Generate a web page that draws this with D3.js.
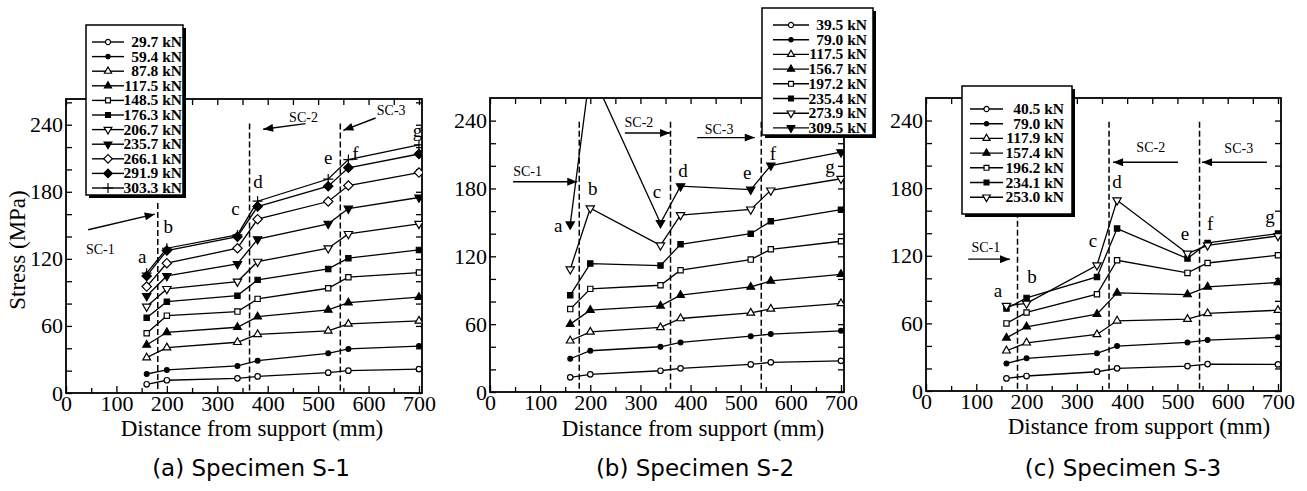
<!DOCTYPE html>
<html><head><meta charset="utf-8">
<script src="https://cdn.jsdelivr.net/npm/d3@7"></script>
<style>body{margin:0;background:#fff}svg{display:block}</style>
</head><body><svg id="chart" width="1307" height="491"></svg>
<script>
// ---------------- DATA ----------------
const stations = [160, 200, 340, 380, 520, 560, 700];
const stationLabels = ["a", "b", "c", "d", "e", "f", "g"];
const xTickValues = [0, 100, 200, 300, 400, 500, 600, 700];
const yTickLabelValues = [0, 60, 120, 180, 240];
const yAxisTitle = "Stress (MPa)";
const xAxisTitle = "Distance from support (mm)";
const captions = ["(a) Specimen S-1", "(b) Specimen S-2", "(c) Specimen S-3"];
const regionNames = ["SC-1", "SC-2", "SC-3"];

// Specimen S-1
const loadsS1 = ["29.7 kN", "59.4 kN", "87.8 kN", "117.5 kN", "148.5 kN", "176.3 kN", "206.7 kN", "235.7 kN", "266.1 kN", "291.9 kN", "303.3 kN"];
const markersS1 = ["oc", "fc", "ot", "ft", "os", "fs", "od", "fd", "oD", "fD", "plus"];
const stressS1 = [
  [7.8, 11.4, 13.1, 14.8, 18.2, 20.0, 21.4],
  [17.0, 20.6, 24.2, 28.9, 35.5, 39.4, 42.0],
  [31.6, 40.6, 45.4, 52.5, 55.5, 61.8, 64.5],
  [43.0, 54.3, 58.8, 68.3, 74.3, 80.8, 85.7],
  [53.4, 69.2, 72.8, 84.2, 93.7, 103.6, 107.7],
  [67.4, 81.7, 87.1, 101.2, 111.0, 120.6, 128.0],
  [77.3, 93.1, 99.7, 117.5, 129.5, 142.3, 151.3],
  [86.8, 104.7, 115.5, 137.6, 151.3, 165.0, 174.9],
  [95.2, 116.1, 129.5, 155.5, 171.3, 185.6, 197.2],
  [104.7, 127.4, 139.8, 166.8, 185.0, 201.5, 213.8],
  [107.2, 129.5, 141.4, 171.6, 191.4, 208.8, 222.0]
];
const dividersS1 = [182, 364, 544];
const dividerTopsS1 = [170, 241, 241];

// Specimen S-2
const loadsS2 = ["39.5 kN", "79.0 kN", "117.5 kN", "156.7 kN", "197.2 kN", "235.4 kN", "273.9 kN", "309.5 kN"];
const markersS2 = ["oc", "fc", "ot", "ft", "os", "fs", "od", "fd"];
const stressS2 = [
  [13.0, 15.6, 18.8, 20.9, 24.4, 26.2, 27.6],
  [29.4, 36.5, 40.0, 43.8, 49.4, 51.2, 54.1],
  [45.3, 53.2, 57.1, 65.0, 70.0, 73.5, 78.3],
  [60.0, 72.4, 76.2, 85.6, 92.9, 98.2, 104.1],
  [73.3, 91.2, 94.4, 107.7, 117.1, 126.2, 133.3],
  [85.6, 113.6, 111.8, 130.6, 140.0, 150.9, 161.2],
  [108.6, 162.5, 129.7, 156.5, 161.5, 178.3, 188.6],
  [148.3, 285.0, 149.5, 182.0, 179.0, 200.3, 212.1]
];
const dividersS2 = [178, 360, 541];
const dividerTopsS2 = [239, 239, 239];

// Specimen S-3
const loadsS3 = ["40.5 kN", "79.0 kN", "117.9 kN", "157.4 kN", "196.2 kN", "234.1 kN", "253.0 kN"];
const markersS3 = ["oc", "fc", "ot", "ft", "os", "fs", "od"];
const stressS3 = [
  [11.2, 13.3, 17.1, 20.1, 22.1, 23.9, 23.6],
  [24.5, 29.0, 33.4, 39.9, 43.1, 45.2, 47.6],
  [35.7, 42.8, 50.2, 62.3, 63.8, 68.8, 71.7],
  [47.2, 57.0, 68.2, 87.1, 85.6, 92.4, 96.3],
  [60.0, 69.7, 85.9, 116.0, 104.8, 113.6, 120.5],
  [73.2, 82.6, 101.2, 144.1, 117.5, 131.4, 139.7],
  [75.6, 77.7, 111.6, 169.2, 122.0, 129.3, 137.6]
];
const dividersS3 = [182, 364, 544];
const dividerTopsS3 = [239, 239, 239];

// Annotation anchors in data units [mm, MPa]
const labelPosS1 = [[151,116],[203,143],[336,159],[381,183],[520,205],[574,208],[697,229]];
const labelPosS2 = [[136,141.5],[205,174],[333,172],[385,190],[513,188],[564,205],[678,194]];
const labelPosS3 = [[143,83],[211,96],[332,128],[380,180],[515,134],[565,143],[684,149]];
const regionTextS1 = [[68,124],[471,242],[645,249]];
const regionArrowS1 = [[[44,146],[176,160]],[[475,241],[391,236]],[[614,246],[550,235]]];
const regionTextS2 = [[75,191],[297,234],[457,228]];
const regionArrowS2 = [[[46,186],[174,186]],[[269,229],[359,229]],[[413,225],[528,225]]];
const regionTextS3 = [[119,123],[447,212],[622,211]];
const regionArrowS3 = [[[84,117],[167,117]],[[501,203],[372,203]],[[678,203],[549,203]]];

// ---------------- LAYOUT ----------------
const panels = [
  {loads: loadsS1, markers: markersS1, stress: stressS1, dividers: dividersS1, dividerTops: dividerTopsS1,
   labelPos: labelPosS1, regionText: regionTextS1, regionArrow: regionArrowS1, caption: captions[0],
   left: 66, right: 422, top: 99, bottom: 393, xMax: 706, yMax: 263, yTitle: true,
   xTitleX: 252, xTitleY: 436, captionX: 251, captionY: 476,
   legend: {x: 86, y: 25, w: 97, h: 170, row0: 42, rowH: 14.6, l1: 92, l2: 124, tx: 182}},
  {loads: loadsS2, markers: markersS2, stress: stressS2, dividers: dividersS2, dividerTops: dividerTopsS2,
   labelPos: labelPosS2, regionText: regionTextS2, regionArrow: regionArrowS2, caption: captions[1],
   left: 490, right: 844, top: 98, bottom: 392, xMax: 706, yMax: 260, yTitle: false,
   xTitleX: 693, xTitleY: 436, captionX: 695, captionY: 476,
   legend: {x: 762, y: 8, w: 111, h: 127, row0: 25, rowH: 14.7, l1: 773, l2: 809, tx: 867}},
  {loads: loadsS3, markers: markersS3, stress: stressS3, dividers: dividersS3, dividerTops: dividerTopsS3,
   labelPos: labelPosS3, regionText: regionTextS3, regionArrow: regionArrowS3, caption: captions[2],
   left: 926, right: 1281, top: 98, bottom: 391, xMax: 706, yMax: 260, yTitle: false,
   xTitleX: 1139, xTitleY: 434, captionX: 1123, captionY: 476,
   legend: {x: 962, y: 86, w: 110, h: 128, row0: 109, rowH: 14.7, l1: 970, l2: 1003, tx: 1064}}
];

const SERIF = "'Liberation Serif', 'Times New Roman', serif";
const svg = d3.select("#chart");
const defs = svg.append("defs");
defs.append("marker").attr("id", "arrowHead")
  .attr("viewBox", "0 0 10 8").attr("refX", 10).attr("refY", 4)
  .attr("markerUnits", "userSpaceOnUse").attr("markerWidth", 12).attr("markerHeight", 8)
  .attr("orient", "auto")
  .append("path").attr("d", "M0,0L10,4L0,8Z").attr("fill", "#000");

function markerPath(type, small) {
  const k = small ? 0.85 : 1;
  switch (type) {
    case "oc": return {d: d3.symbol(d3.symbolCircle, 24 * k)(), fill: "#fff", rot: 0};
    case "fc": return {d: d3.symbol(d3.symbolCircle, 18 * k)(), fill: "#000", rot: 0};
    case "ot": return {d: d3.symbol(d3.symbolTriangle, 26 * k)(), fill: "#fff", rot: 0};
    case "ft": return {d: d3.symbol(d3.symbolTriangle, 26 * k)(), fill: "#000", rot: 0};
    case "os": return {d: d3.symbol(d3.symbolSquare, 28 * k)(), fill: "#fff", rot: 0};
    case "fs": return {d: d3.symbol(d3.symbolSquare, 28 * k)(), fill: "#000", rot: 0};
    case "od": return {d: d3.symbol(d3.symbolTriangle, 30 * k)(), fill: "#fff", rot: 180};
    case "fd": return {d: d3.symbol(d3.symbolTriangle, 30 * k)(), fill: "#000", rot: 180};
    case "oD": return {d: d3.symbol(d3.symbolSquare, 44 * k)(), fill: "#fff", rot: 45};
    case "fD": return {d: d3.symbol(d3.symbolSquare, 44 * k)(), fill: "#000", rot: 45};
    case "plus": return {d: "M-5,0H5M0,-5V5", fill: "none", rot: 0};
  }
}
function drawMarker(g, type, cx, cy, small) {
  const m = markerPath(type, small);
  g.append("path").attr("d", m.d)
    .attr("transform", `translate(${cx},${cy}) rotate(${m.rot})`)
    .attr("fill", m.fill).attr("stroke", "#000").attr("stroke-width", 1.2);
}

panels.forEach((p, pi) => {
  const x = d3.scaleLinear().domain([0, p.xMax]).range([p.left, p.right]);
  const y = d3.scaleLinear().domain([0, p.yMax]).range([p.bottom, p.top]);
  const g = svg.append("g");

  const clipId = "clip" + pi;
  defs.append("clipPath").attr("id", clipId).append("rect")
    .attr("x", p.left).attr("y", p.top).attr("width", p.right - p.left).attr("height", p.bottom - p.top);

  const minorX = d3.range(50, p.xMax, 100);
  const yTicksAll = d3.range(0, p.yMax, 20);
  const styleAxis = a => { a.select(".domain").remove(); a.selectAll("line").attr("stroke", "#000").attr("stroke-width", 1.3); };

  const xb = g.append("g").attr("transform", `translate(0,${p.bottom})`)
    .call(d3.axisBottom(x).tickValues(xTickValues).tickSizeInner(-7).tickSizeOuter(0).tickPadding(2));
  styleAxis(xb);
  xb.selectAll("text").attr("font-family", SERIF).attr("font-size", 22).attr("fill", "#000");
  const xbm = g.append("g").attr("transform", `translate(0,${p.bottom})`)
    .call(d3.axisBottom(x).tickValues(minorX).tickSizeInner(-5).tickSizeOuter(0).tickFormat(""));
  styleAxis(xbm);
  const xt = g.append("g").attr("transform", `translate(0,${p.top})`)
    .call(d3.axisTop(x).tickValues(xTickValues.concat(minorX)).tickSizeInner(-6).tickSizeOuter(0).tickFormat(""));
  styleAxis(xt);

  const yl = g.append("g").attr("transform", `translate(${p.left},0)`)
    .call(d3.axisLeft(y).tickValues(yTicksAll).tickSizeInner(-6).tickSizeOuter(0).tickPadding(3)
      .tickFormat(d => yTickLabelValues.includes(d) ? d : ""));
  styleAxis(yl);
  yl.selectAll("text").attr("font-family", SERIF).attr("font-size", 22).attr("fill", "#000");
  const yr = g.append("g").attr("transform", `translate(${p.right},0)`)
    .call(d3.axisRight(y).tickValues(yTicksAll).tickSizeInner(-6).tickSizeOuter(0).tickFormat(""));
  styleAxis(yr);

  g.append("rect").attr("x", p.left).attr("y", p.top).attr("width", p.right - p.left).attr("height", p.bottom - p.top)
    .attr("fill", "none").attr("stroke", "#000").attr("stroke-width", 1.8);

  p.dividers.forEach((dv, i) => {
    g.append("line").attr("x1", x(dv)).attr("x2", x(dv)).attr("y1", y(p.dividerTops[i])).attr("y2", p.bottom)
      .attr("stroke", "#000").attr("stroke-width", 1.5).attr("stroke-dasharray", "6,3");
  });

  const data = g.append("g").attr("clip-path", `url(#${clipId})`);
  const line = d3.line().x((d, i) => x(stations[i])).y(d => y(d));
  p.stress.forEach(s => {
    data.append("path").attr("d", line(s)).attr("fill", "none").attr("stroke", "#000").attr("stroke-width", 1.3);
  });
  p.stress.forEach((s, si) => {
    s.forEach((v, i) => drawMarker(data, p.markers[si], x(stations[i]), y(v), false));
  });

  p.labelPos.forEach((lp, i) => {
    g.append("text").attr("x", x(lp[0])).attr("y", y(lp[1])).attr("text-anchor", "middle")
      .attr("font-family", SERIF).attr("font-size", 19).text(stationLabels[i]);
  });

  p.regionText.forEach((rt, i) => {
    g.append("text").attr("x", x(rt[0])).attr("y", y(rt[1])).attr("text-anchor", "middle")
      .attr("font-family", SERIF).attr("font-size", 14).text(regionNames[i]);
    const a = p.regionArrow[i];
    g.append("line").attr("x1", x(a[0][0])).attr("y1", y(a[0][1])).attr("x2", x(a[1][0])).attr("y2", y(a[1][1]))
      .attr("stroke", "#000").attr("stroke-width", 1.4).attr("marker-end", "url(#arrowHead)");
  });

  g.append("text").attr("x", p.xTitleX).attr("y", p.xTitleY).attr("text-anchor", "middle")
    .attr("font-family", SERIF).attr("font-size", 23).text(xAxisTitle);
  if (p.yTitle) {
    g.append("text").attr("transform", `translate(25,250) rotate(-90)`).attr("text-anchor", "middle")
      .attr("font-family", SERIF).attr("font-size", 23).text(yAxisTitle);
  }
  g.append("text").attr("x", p.captionX).attr("y", p.captionY).attr("text-anchor", "middle")
    .attr("font-family", "'DejaVu Sans', sans-serif").attr("font-size", 23).text(p.caption);

  const L = p.legend;
  const lg = svg.append("g");
  lg.append("rect").attr("x", L.x + 3).attr("y", L.y + 3).attr("width", L.w).attr("height", L.h).attr("fill", "#000");
  lg.append("rect").attr("x", L.x).attr("y", L.y).attr("width", L.w).attr("height", L.h)
    .attr("fill", "#fff").attr("stroke", "#000").attr("stroke-width", 1.5);
  p.loads.forEach((ld, i) => {
    const yy = L.row0 + i * L.rowH;
    lg.append("line").attr("x1", L.l1).attr("x2", L.l2).attr("y1", yy).attr("y2", yy)
      .attr("stroke", "#000").attr("stroke-width", 1.4);
    drawMarker(lg, p.markers[i], (L.l1 + L.l2) / 2, yy, true);
    lg.append("text").attr("x", L.tx).attr("y", yy + 5).attr("text-anchor", "end")
      .attr("font-family", SERIF).attr("font-weight", "bold").attr("font-size", 15.5).text(ld);
  });
});
</script>
</body></html>
